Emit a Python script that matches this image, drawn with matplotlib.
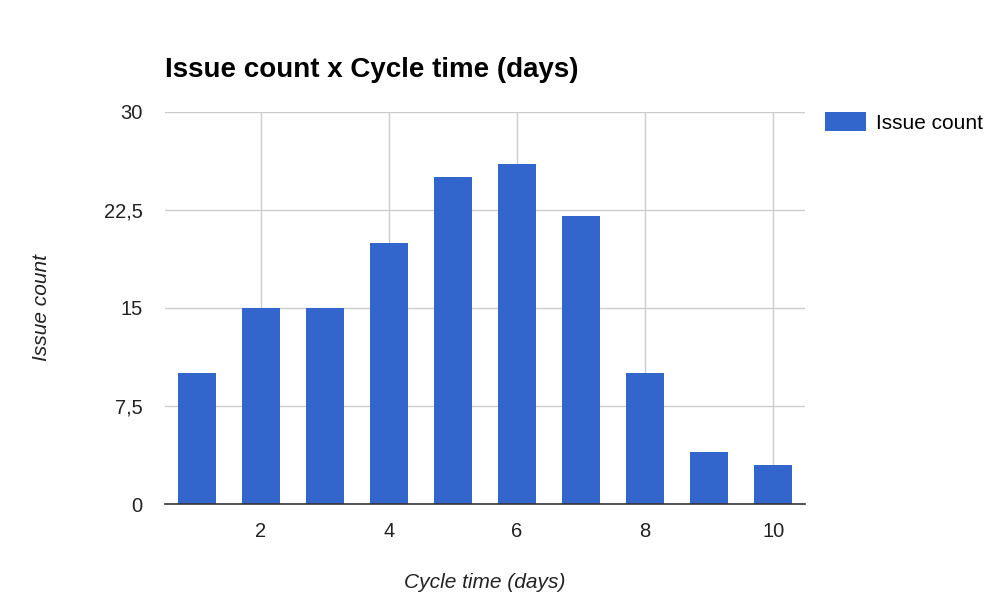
import matplotlib
matplotlib.use("Agg")
import matplotlib.pyplot as plt
from matplotlib.ticker import FuncFormatter

# data
cycle_days  = [1, 2, 3, 4, 5, 6, 7, 8, 9, 10]
issue_count = [10, 15, 15, 20, 25, 26, 22, 10, 4, 3]
y_ticks     = [0, 7.5, 15, 22.5, 30]
x_ticks     = [2, 4, 6, 8, 10]

blue  = "#3366cc"
grid  = "#cccccc"
text  = "#222222"

plt.rcParams.update({
    "font.family": ["Liberation Sans", "DejaVu Sans"],
    "font.size":   14,
})

fig = plt.figure(figsize=(9.99, 6.14), dpi=100, facecolor="white")
ax = fig.add_axes([0.165, 0.179, 0.641, 0.639])

ax.bar(cycle_days, issue_count, width=0.6, color=blue, label="Issue count", zorder=3)

ax.set_xlim(0.5, 10.5)
ax.set_ylim(0, 30)
ax.set_xticks(x_ticks)
ax.set_yticks(y_ticks)
ax.yaxis.set_major_formatter(
    FuncFormatter(lambda v, _: (f"{v:g}").replace(".", ",")))

ax.grid(True, color=grid, lw=1, zorder=0)
for s in ("top", "right", "left"):
    ax.spines[s].set_visible(False)
ax.spines["bottom"].set_color("#333333")
ax.spines["bottom"].set_linewidth(1.2)
ax.spines["bottom"].set_zorder(4)
ax.tick_params(length=0, labelsize=14.5, colors=text)
ax.tick_params(axis="y", pad=16)
ax.tick_params(axis="x", pad=13)

ax.set_xlabel("Cycle time (days)", fontstyle="italic", fontsize=15,
              color=text, labelpad=23)
ax.set_ylabel("Issue count", fontstyle="italic", fontsize=15,
              color=text, labelpad=38)

fig.text(0.165, 0.875, "Issue count x Cycle time (days)", fontsize=20,
         fontweight="bold", color="black", ha="left", va="baseline")

fig.legend(loc="upper left", bbox_to_anchor=(0.826, 0.818), frameon=False,
           fontsize=15, handlelength=1.97, handleheight=1.05, handletextpad=0.45,
           borderaxespad=0, borderpad=0)

fig.savefig("out.png", dpi=100, facecolor="white")
